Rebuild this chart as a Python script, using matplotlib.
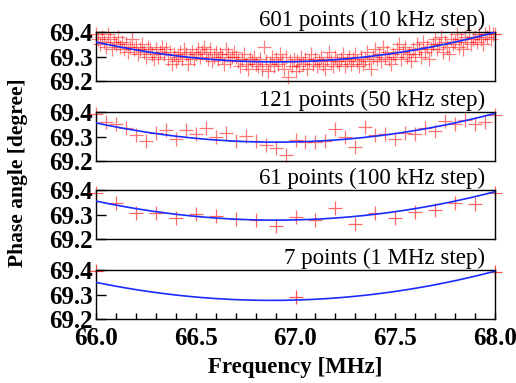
import numpy as np
import matplotlib
matplotlib.use("Agg")
import matplotlib.pyplot as plt
from matplotlib.ticker import MultipleLocator

plt.rcParams['font.family'] = ['Liberation Serif', 'DejaVu Serif']
plt.rcParams['mathtext.fontset'] = 'stix'

# ---------------- data ----------------
titles = ["601 points (10 kHz step)", "121 points (50 kHz step)",
          "61 points (100 kHz step)", "7 points (1 MHz step)"]

x_start, x_stop = 66.0, 68.0
steps = [0.01, 0.05, 0.1, 1.0]

y_601 = [
    69.39, 69.37, 69.35, 69.38, 69.36, 69.34, 69.39, 69.37, 69.33, 69.36,
    69.35, 69.38, 69.34, 69.36, 69.33, 69.35, 69.32, 69.34, 69.37, 69.33,
    69.34, 69.31, 69.33, 69.35, 69.32, 69.30, 69.34, 69.33, 69.31, 69.29,
    69.33, 69.30, 69.32, 69.34, 69.31, 69.33, 69.29, 69.32, 69.27, 69.31,
    69.28, 69.30, 69.32, 69.29, 69.33, 69.31, 69.27, 69.30, 69.32, 69.29,
    69.31, 69.33, 69.30, 69.32, 69.34, 69.31, 69.29, 69.33, 69.28, 69.30,
    69.32, 69.29, 69.31, 69.30, 69.27, 69.33, 69.31, 69.28, 69.30, 69.32,
    69.30, 69.28, 69.26, 69.29, 69.31, 69.27, 69.25, 69.29, 69.28, 69.30,
    69.27, 69.26, 69.29, 69.25, 69.34, 69.28, 69.24, 69.27, 69.30, 69.26,
    69.29, 69.27, 69.31, 69.28, 69.25, 69.30, 69.215, 69.28, 69.26, 69.29,
    69.24, 69.28, 69.26, 69.30, 69.27, 69.29, 69.25, 69.28, 69.31, 69.27,
    69.29, 69.26, 69.28, 69.30, 69.27, 69.25, 69.29, 69.32, 69.28, 69.26,
    69.30, 69.28, 69.27, 69.29, 69.31, 69.26, 69.28, 69.30, 69.27, 69.29,
    69.31, 69.28, 69.26, 69.30, 69.27, 69.29, 69.32, 69.28, 69.25, 69.30,
    69.33, 69.29, 69.31, 69.28, 69.34, 69.30, 69.32, 69.29, 69.27, 69.31,
    69.30, 69.33, 69.35, 69.29, 69.32, 69.34, 69.30, 69.31, 69.28, 69.33,
    69.31, 69.35, 69.33, 69.30, 69.36, 69.32, 69.34, 69.29, 69.33, 69.35,
    69.37, 69.33, 69.35, 69.38, 69.32, 69.36, 69.34, 69.31, 69.37, 69.35,
    69.36, 69.39, 69.34, 69.37, 69.33, 69.38, 69.36, 69.40, 69.35, 69.37,
    69.38, 69.36, 69.39, 69.37, 69.35, 69.39, 69.38, 69.40, 69.37, 69.39,
    69.39,
]

y_121 = [
    69.392, 69.360, 69.352, 69.336, 69.307, 69.283, 69.316, 69.327, 69.289, 69.327,
    69.309, 69.336, 69.296, 69.316, 69.283, 69.303, 69.283, 69.267, 69.253, 69.223,
    69.285, 69.276, 69.279, 69.283, 69.329, 69.299, 69.259, 69.339, 69.307, 69.309,
    69.289, 69.316, 69.309, 69.333, 69.323, 69.363, 69.349, 69.369, 69.349, 69.360,
    69.389,
]

y_61 = [
    69.387, 69.348, 69.305, 69.305, 69.286, 69.303, 69.294, 69.283, 69.277, 69.253,
    69.290, 69.277, 69.325, 69.260, 69.305, 69.286, 69.309, 69.318, 69.348, 69.342,
    69.387,
]

y_7 = [69.395, 69.290, 69.392]

series = [y_601, y_121, y_61, y_7]

# quadratic fit parameters per panel: vertex x, vertex y, curvature
fit_x0 = [66.9, 66.9, 66.9, 66.88]
fit_y0 = [69.278, 69.277, 69.277, 69.276]
fit_a = [0.100, 0.097, 0.096, 0.095]

marker_alpha = [0.5, 0.55, 0.6, 0.7]

yticks = [69.2, 69.3, 69.4]
xticks = [66.0, 66.5, 67.0, 67.5, 68.0]

# ---------------- figure ----------------
W, H = 516, 383
fig = plt.figure(figsize=(W / 100, H / 100), dpi=100)

left, right = 96, 495
panel_tops = [32, 112, 190, 270]
panel_h = 49

xf = np.linspace(x_start, x_stop, 300)
axes = []
for i in range(4):
    top = panel_tops[i]
    ax = fig.add_axes([left / W, 1 - (top + panel_h) / H, (right - left) / W, panel_h / H])
    axes.append(ax)
    ys = series[i]
    xs = x_start + steps[i] * np.arange(len(ys))
    yfit = fit_y0[i] + fit_a[i] * (xf - fit_x0[i]) ** 2
    ax.plot(xs, ys, linestyle='none', marker='+', color='red',
            markersize=10, markeredgewidth=0.9, alpha=marker_alpha[i], clip_on=False, zorder=2)
    ax.plot(xf, yfit, color='#1a2cff', linewidth=1.2, zorder=3)
    ax.set_xlim(x_start, x_stop)
    ax.set_ylim(69.2, 69.4)
    ax.set_yticks(yticks)
    ax.set_yticklabels([f"{v:.1f}" for v in yticks], fontsize=18, fontweight='bold')
    ax.tick_params(axis='y', direction='in', length=7, width=1, pad=2, right=False)
    for s in ax.spines.values():
        s.set_linewidth(1.0)
    ax.text(0.975, 1.02, titles[i], transform=ax.transAxes, ha='right', va='bottom',
            fontsize=16.5)
    if i < 3:
        ax.set_xticks([])
    else:
        ax.set_xticks(xticks)
        ax.set_xticklabels([f"{v:.1f}" for v in xticks], fontsize=18, fontweight='bold')
        ax.xaxis.set_minor_locator(MultipleLocator(0.1))
        ax.tick_params(axis='x', which='both', direction='in', length=4, width=1, pad=6, top=False)
        ax.set_xlabel("Frequency [MHz]", fontsize=16.5, fontweight='bold', labelpad=5)

fig.text(18 / W, 1 - 173 / H, "Phase angle [degree]", rotation=90, fontsize=15.5,
         fontweight='bold', ha='center', va='center')

fig.savefig("out.png", dpi=100)
